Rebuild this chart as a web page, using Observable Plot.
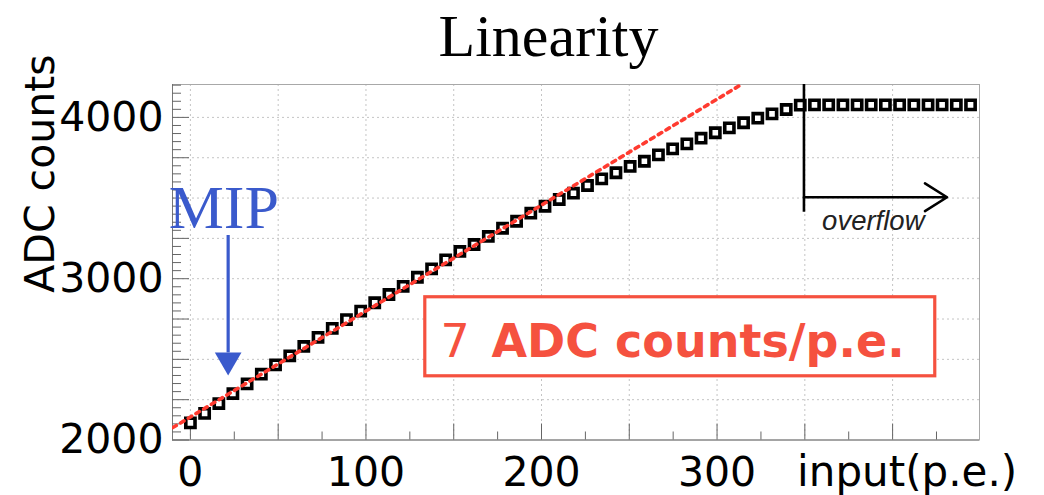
<!DOCTYPE html>
<html><head><meta charset="utf-8">
<script src="https://cdn.jsdelivr.net/npm/d3@7"></script>
<script src="https://cdn.jsdelivr.net/npm/@observablehq/plot@0.6"></script>
<style>body{margin:0;background:#fff}</style>
</head><body><div id="chart"></div>
<script>
// ---- data ----
const inputPE = [0, 8.1, 16.2, 24.2, 32.3, 40.4, 48.5, 56.6, 64.6, 72.7, 80.8, 88.9, 97.0, 105.0, 113.1, 121.2,
  129.3, 137.4, 145.4, 153.5, 161.6, 169.7, 177.8, 185.8, 193.9, 202.0, 210.1, 218.2, 226.2, 234.3, 242.4,
  250.5, 258.6, 266.6, 274.7, 282.8, 290.9, 299.0, 307.0, 315.1, 323.2, 331.3, 339.4, 347.4, 355.5, 363.6,
  371.7, 379.8, 387.8, 395.9, 404.0, 412.1, 420.2, 428.2, 436.3, 444.4];
const adcCounts = [2106, 2165, 2226, 2288, 2348, 2408, 2466, 2522, 2580, 2636, 2692, 2746, 2799, 2851, 2902, 2953,
  3009, 3061, 3117, 3169, 3212, 3262, 3313, 3356, 3406, 3449, 3491, 3530, 3578, 3619, 3657,
  3696, 3728, 3768, 3805, 3836, 3871, 3905, 3935, 3967, 3995, 4022, 4049, 4076, 4078, 4078,
  4078, 4078, 4078, 4078, 4078, 4078, 4078, 4078, 4078, 4078];
const fitX = [-10, 314];
const fitY = [2077, 4205];
const xTickLabels = [0, 100, 200, 300];
const yTickLabels = [2000, 3000, 4000];
const titleText = "Linearity";
const yTitle = "ADC counts";
const xTitle = "input(p.e.)";
const boxNumber = "7";
const boxUnit = "ADC counts/p.e.";
const mipText = "MIP";
const overflowText = "overflow";
// annotation anchors (data units)
const mipLabelAt = [{x: 19, y: 3438}];
const mipShaft = [{x: 21.5, y1: 3268, y2: 2540}];
const mipHead = [{x: 21.5, y: 2495}];
const boxRect = [{x1: 133.8, x2: 424.3, y1: 2395, y2: 2885}];
const boxNumberAt = [{x: 142.4, y: 2513}];
const boxUnitAt = [{x: 171.5, y: 2513}];
const overflowLine = [{x: 349.5, y1: 3412, y2: 4204}];
const overflowArrow = [{x1: 349.5, x2: 431, y1: 3505, y2: 3505}];
const overflowTextAt = [{x: 389, y: 3305}];
const yTitleAt = [{y: 3652}];
const xTitleAt = [{x: 345.6}];

const points = inputPE.map((x, i) => ({x, y: adcCounts[i]}));
const fit = fitX.map((x, i) => ({x, y: fitY[i]}));

const xMajor = d3.range(0, 401, 50);
const xMinor = d3.range(25, 450, 50);
const yMajor = d3.range(2000, 4001, 250);
const yMinor = d3.range(2050, 4204, 50).filter(v => v % 250 !== 0);
const yGrid = d3.range(2250, 4001, 250);

const W = 1044, H = 495, mL = 172, mR = 65, mT = 84, mB = 55.5;
const fw = W - mL - mR, fh = H - mT - mB;
const sans = "DejaVu Sans";
const serif = "Liberation Serif";
const red = "#f5513f";
const blue = "#3a5acc";

const chart = Plot.plot({
  width: W, height: H,
  marginLeft: mL, marginRight: mR, marginTop: mT, marginBottom: mB,
  x: {domain: [-10.2, 449.5]},
  y: {domain: [2000, 4204]},
  style: {fontFamily: sans, background: "white", overflow: "visible"},
  marks: [
    Plot.gridX(xMajor, {stroke: "#c4c4c4", strokeOpacity: 1, strokeDasharray: "2,3"}),
    Plot.gridY(yGrid, {stroke: "#c4c4c4", strokeOpacity: 1, strokeDasharray: "2,3"}),
    Plot.frame({stroke: "#a8a8a8"}),
    Plot.ruleX([-10.2], {stroke: "#777"}),
    Plot.ruleY([2000], {stroke: "#777"}),
    Plot.tickY(yMajor, {y: d => d, insetRight: fw - 17, stroke: "#666"}),
    Plot.tickY(yMinor, {y: d => d, insetRight: fw - 9, stroke: "#666"}),
    Plot.tickX(xMajor, {x: d => d, insetTop: fh - 16, stroke: "#666"}),
    Plot.tickX(xMinor, {x: d => d, insetTop: fh - 8, stroke: "#666"}),
    Plot.axisY({ticks: yTickLabels, tickSize: 0, tickPadding: 9, fontSize: 41, fontFamily: sans, fill: "black", tickFormat: d => String(d)}),
    Plot.axisX({ticks: xTickLabels, tickSize: 0, tickPadding: 16.5, fontSize: 41, fontFamily: sans, fill: "black", tickFormat: d => String(d)}),
    Plot.rect(boxRect, {x1: "x1", x2: "x2", y1: "y1", y2: "y2", fill: "white", stroke: red, strokeWidth: 3.2}),
    Plot.text(boxNumberAt, {x: "x", y: "y", text: () => boxNumber, textAnchor: "start", lineAnchor: "bottom", fontSize: 46, fontFamily: sans, fill: red}),
    Plot.text(boxUnitAt, {x: "x", y: "y", text: () => boxUnit, textAnchor: "start", lineAnchor: "bottom", fontSize: 46, fontWeight: "bold", fontFamily: sans, fill: red}),
    Plot.dot(points, {x: "x", y: "y", symbol: "square", r: 5.2, stroke: "black", strokeWidth: 3.6, fill: "white"}),
    Plot.line(fit, {x: "x", y: "y", stroke: "#ff3b30", strokeWidth: 3.6, strokeDasharray: "4,5", clip: true}),
    Plot.text(mipLabelAt, {x: "x", y: "y", text: () => mipText, fontSize: 62, fontFamily: serif, fill: blue}),
    Plot.ruleX(mipShaft, {x: "x", y1: "y1", y2: "y2", stroke: blue, strokeWidth: 3.2}),
    Plot.dot(mipHead, {x: "x", y: "y", symbol: "triangle", rotate: 180, r: 9.9, fill: blue, stroke: "none"}),
    Plot.ruleX(overflowLine, {x: "x", y1: "y1", y2: "y2", stroke: "black", strokeWidth: 2.6}),
    Plot.arrow(overflowArrow, {x1: "x1", y1: "y1", x2: "x2", y2: "y2", stroke: "black", strokeWidth: 2.6, headLength: 15, headAngle: 64}),
    Plot.text(overflowTextAt, {x: "x", y: "y", text: () => overflowText, lineAnchor: "bottom", fontSize: 27.5, fontStyle: "italic", fontFamily: "Liberation Sans", fill: "#222"}),
    Plot.text([titleText], {frameAnchor: "top", text: d => d, dx: -27.5, dy: -29, lineAnchor: "bottom", fontSize: 60, fontFamily: serif, fill: "black"}),
    Plot.text(yTitleAt, {frameAnchor: "left", y: "y", text: () => yTitle, rotate: -90, textAnchor: "middle", dx: -119, lineAnchor: "bottom", fontSize: 41, fontFamily: sans, fill: "black"}),
    Plot.text(xTitleAt, {frameAnchor: "bottom", x: "x", text: () => xTitle, textAnchor: "start", dy: 45.5, lineAnchor: "bottom", fontSize: 42, fontFamily: sans, fill: "black"})
  ]
});
document.getElementById("chart").appendChild(chart);
</script>
</body></html>
